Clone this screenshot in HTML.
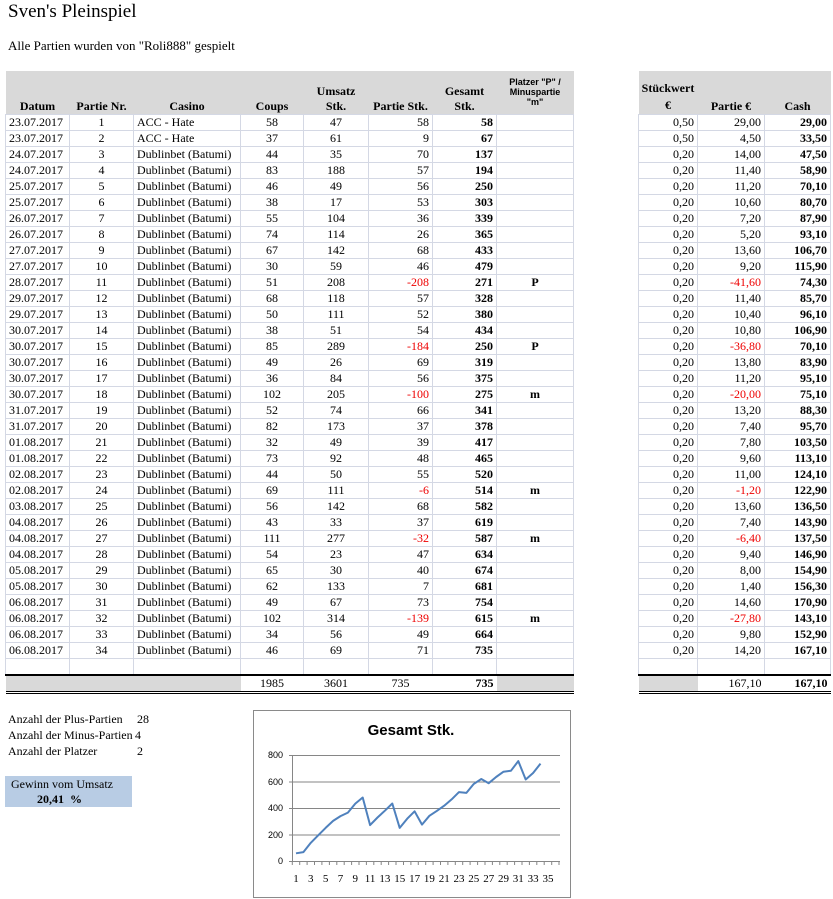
<!DOCTYPE html>
<html><head><meta charset="utf-8"><style>
body{margin:0;width:833px;height:899px;background:#fff;font-family:"Liberation Serif",serif;font-size:12px;color:#000;position:relative;overflow:hidden}
.a{position:absolute;white-space:nowrap}
table{position:absolute;border-collapse:collapse;table-layout:fixed}
td{padding:0 3px;height:15px;line-height:15px;border:1px solid #d4d8e4;white-space:nowrap;overflow:hidden}
th{background:#d9d9d9;font-weight:bold;padding:0;border:none;height:43px}
th div{height:43px;overflow:hidden;display:flex;flex-direction:column;justify-content:flex-end;align-items:center;line-height:15px;text-align:center}
.c{text-align:center}.r{text-align:right}.b{font-weight:bold}.n{color:#e00}
tr.t td{border:none;border-top:2px solid #000;border-bottom:3px double #000;height:15px}
.g{background:#d9d9d9}
</style></head><body>
<div class="a" style="left:8px;top:1px;font-size:19px">Sven's Pleinspiel</div>
<div class="a" style="left:8px;top:38px;font-size:13px">Alle Partien wurden von "Roli888" gespielt</div>

<table style="left:5px;top:71px;width:568px">
<colgroup><col style="width:64px"><col style="width:64px"><col style="width:107px"><col style="width:63px"><col style="width:65px"><col style="width:64px"><col style="width:64px"><col style="width:77px"></colgroup>
<tr><th><div>Datum</div></th><th><div>Partie Nr.</div></th><th><div>Casino</div></th><th><div>Coups</div></th><th><div>Umsatz<br>Stk.</div></th><th><div>Partie Stk.</div></th><th><div>Gesamt<br>Stk.</div></th><th><div style="justify-content:flex-start;padding-top:6px;height:37px;font-family:'Liberation Sans',sans-serif;font-size:9px;line-height:10px">Platzer "P" /<br>Minuspartie<br>"m"</div></th></tr>
<tr><td>23.07.2017</td><td class="c">1</td><td>ACC - Hate</td><td class="c">58</td><td class="c">47</td><td class="r">58</td><td class="r b">58</td><td class="c b"></td></tr>
<tr><td>23.07.2017</td><td class="c">2</td><td>ACC - Hate</td><td class="c">37</td><td class="c">61</td><td class="r">9</td><td class="r b">67</td><td class="c b"></td></tr>
<tr><td>24.07.2017</td><td class="c">3</td><td>Dublinbet (Batumi)</td><td class="c">44</td><td class="c">35</td><td class="r">70</td><td class="r b">137</td><td class="c b"></td></tr>
<tr><td>24.07.2017</td><td class="c">4</td><td>Dublinbet (Batumi)</td><td class="c">83</td><td class="c">188</td><td class="r">57</td><td class="r b">194</td><td class="c b"></td></tr>
<tr><td>25.07.2017</td><td class="c">5</td><td>Dublinbet (Batumi)</td><td class="c">46</td><td class="c">49</td><td class="r">56</td><td class="r b">250</td><td class="c b"></td></tr>
<tr><td>25.07.2017</td><td class="c">6</td><td>Dublinbet (Batumi)</td><td class="c">38</td><td class="c">17</td><td class="r">53</td><td class="r b">303</td><td class="c b"></td></tr>
<tr><td>26.07.2017</td><td class="c">7</td><td>Dublinbet (Batumi)</td><td class="c">55</td><td class="c">104</td><td class="r">36</td><td class="r b">339</td><td class="c b"></td></tr>
<tr><td>26.07.2017</td><td class="c">8</td><td>Dublinbet (Batumi)</td><td class="c">74</td><td class="c">114</td><td class="r">26</td><td class="r b">365</td><td class="c b"></td></tr>
<tr><td>27.07.2017</td><td class="c">9</td><td>Dublinbet (Batumi)</td><td class="c">67</td><td class="c">142</td><td class="r">68</td><td class="r b">433</td><td class="c b"></td></tr>
<tr><td>27.07.2017</td><td class="c">10</td><td>Dublinbet (Batumi)</td><td class="c">30</td><td class="c">59</td><td class="r">46</td><td class="r b">479</td><td class="c b"></td></tr>
<tr><td>28.07.2017</td><td class="c">11</td><td>Dublinbet (Batumi)</td><td class="c">51</td><td class="c">208</td><td class="r n">-208</td><td class="r b">271</td><td class="c b">P</td></tr>
<tr><td>29.07.2017</td><td class="c">12</td><td>Dublinbet (Batumi)</td><td class="c">68</td><td class="c">118</td><td class="r">57</td><td class="r b">328</td><td class="c b"></td></tr>
<tr><td>29.07.2017</td><td class="c">13</td><td>Dublinbet (Batumi)</td><td class="c">50</td><td class="c">111</td><td class="r">52</td><td class="r b">380</td><td class="c b"></td></tr>
<tr><td>30.07.2017</td><td class="c">14</td><td>Dublinbet (Batumi)</td><td class="c">38</td><td class="c">51</td><td class="r">54</td><td class="r b">434</td><td class="c b"></td></tr>
<tr><td>30.07.2017</td><td class="c">15</td><td>Dublinbet (Batumi)</td><td class="c">85</td><td class="c">289</td><td class="r n">-184</td><td class="r b">250</td><td class="c b">P</td></tr>
<tr><td>30.07.2017</td><td class="c">16</td><td>Dublinbet (Batumi)</td><td class="c">49</td><td class="c">26</td><td class="r">69</td><td class="r b">319</td><td class="c b"></td></tr>
<tr><td>30.07.2017</td><td class="c">17</td><td>Dublinbet (Batumi)</td><td class="c">36</td><td class="c">84</td><td class="r">56</td><td class="r b">375</td><td class="c b"></td></tr>
<tr><td>30.07.2017</td><td class="c">18</td><td>Dublinbet (Batumi)</td><td class="c">102</td><td class="c">205</td><td class="r n">-100</td><td class="r b">275</td><td class="c b">m</td></tr>
<tr><td>31.07.2017</td><td class="c">19</td><td>Dublinbet (Batumi)</td><td class="c">52</td><td class="c">74</td><td class="r">66</td><td class="r b">341</td><td class="c b"></td></tr>
<tr><td>31.07.2017</td><td class="c">20</td><td>Dublinbet (Batumi)</td><td class="c">82</td><td class="c">173</td><td class="r">37</td><td class="r b">378</td><td class="c b"></td></tr>
<tr><td>01.08.2017</td><td class="c">21</td><td>Dublinbet (Batumi)</td><td class="c">32</td><td class="c">49</td><td class="r">39</td><td class="r b">417</td><td class="c b"></td></tr>
<tr><td>01.08.2017</td><td class="c">22</td><td>Dublinbet (Batumi)</td><td class="c">73</td><td class="c">92</td><td class="r">48</td><td class="r b">465</td><td class="c b"></td></tr>
<tr><td>02.08.2017</td><td class="c">23</td><td>Dublinbet (Batumi)</td><td class="c">44</td><td class="c">50</td><td class="r">55</td><td class="r b">520</td><td class="c b"></td></tr>
<tr><td>02.08.2017</td><td class="c">24</td><td>Dublinbet (Batumi)</td><td class="c">69</td><td class="c">111</td><td class="r n">-6</td><td class="r b">514</td><td class="c b">m</td></tr>
<tr><td>03.08.2017</td><td class="c">25</td><td>Dublinbet (Batumi)</td><td class="c">56</td><td class="c">142</td><td class="r">68</td><td class="r b">582</td><td class="c b"></td></tr>
<tr><td>04.08.2017</td><td class="c">26</td><td>Dublinbet (Batumi)</td><td class="c">43</td><td class="c">33</td><td class="r">37</td><td class="r b">619</td><td class="c b"></td></tr>
<tr><td>04.08.2017</td><td class="c">27</td><td>Dublinbet (Batumi)</td><td class="c">111</td><td class="c">277</td><td class="r n">-32</td><td class="r b">587</td><td class="c b">m</td></tr>
<tr><td>04.08.2017</td><td class="c">28</td><td>Dublinbet (Batumi)</td><td class="c">54</td><td class="c">23</td><td class="r">47</td><td class="r b">634</td><td class="c b"></td></tr>
<tr><td>05.08.2017</td><td class="c">29</td><td>Dublinbet (Batumi)</td><td class="c">65</td><td class="c">30</td><td class="r">40</td><td class="r b">674</td><td class="c b"></td></tr>
<tr><td>05.08.2017</td><td class="c">30</td><td>Dublinbet (Batumi)</td><td class="c">62</td><td class="c">133</td><td class="r">7</td><td class="r b">681</td><td class="c b"></td></tr>
<tr><td>06.08.2017</td><td class="c">31</td><td>Dublinbet (Batumi)</td><td class="c">49</td><td class="c">67</td><td class="r">73</td><td class="r b">754</td><td class="c b"></td></tr>
<tr><td>06.08.2017</td><td class="c">32</td><td>Dublinbet (Batumi)</td><td class="c">102</td><td class="c">314</td><td class="r n">-139</td><td class="r b">615</td><td class="c b">m</td></tr>
<tr><td>06.08.2017</td><td class="c">33</td><td>Dublinbet (Batumi)</td><td class="c">34</td><td class="c">56</td><td class="r">49</td><td class="r b">664</td><td class="c b"></td></tr>
<tr><td>06.08.2017</td><td class="c">34</td><td>Dublinbet (Batumi)</td><td class="c">46</td><td class="c">69</td><td class="r">71</td><td class="r b">735</td><td class="c b"></td></tr>
<tr><td></td><td></td><td></td><td></td><td></td><td></td><td></td><td></td></tr>
<tr class="t"><td class="g"></td><td class="g"></td><td class="g"></td><td class="c">1985</td><td class="c">3601</td><td class="c">735</td><td class="r b">735</td><td class="g"></td></tr>
</table>

<table style="left:638px;top:71px;width:192px">
<colgroup><col style="width:59px"><col style="width:67px"><col style="width:66px"></colgroup>
<tr><th><div style="line-height:17px">Stückwert<br>€</div></th><th><div>Partie €</div></th><th><div>Cash</div></th></tr>
<tr><td class="r">0,50</td><td class="r">29,00</td><td class="r b">29,00</td></tr>
<tr><td class="r">0,50</td><td class="r">4,50</td><td class="r b">33,50</td></tr>
<tr><td class="r">0,20</td><td class="r">14,00</td><td class="r b">47,50</td></tr>
<tr><td class="r">0,20</td><td class="r">11,40</td><td class="r b">58,90</td></tr>
<tr><td class="r">0,20</td><td class="r">11,20</td><td class="r b">70,10</td></tr>
<tr><td class="r">0,20</td><td class="r">10,60</td><td class="r b">80,70</td></tr>
<tr><td class="r">0,20</td><td class="r">7,20</td><td class="r b">87,90</td></tr>
<tr><td class="r">0,20</td><td class="r">5,20</td><td class="r b">93,10</td></tr>
<tr><td class="r">0,20</td><td class="r">13,60</td><td class="r b">106,70</td></tr>
<tr><td class="r">0,20</td><td class="r">9,20</td><td class="r b">115,90</td></tr>
<tr><td class="r">0,20</td><td class="r n">-41,60</td><td class="r b">74,30</td></tr>
<tr><td class="r">0,20</td><td class="r">11,40</td><td class="r b">85,70</td></tr>
<tr><td class="r">0,20</td><td class="r">10,40</td><td class="r b">96,10</td></tr>
<tr><td class="r">0,20</td><td class="r">10,80</td><td class="r b">106,90</td></tr>
<tr><td class="r">0,20</td><td class="r n">-36,80</td><td class="r b">70,10</td></tr>
<tr><td class="r">0,20</td><td class="r">13,80</td><td class="r b">83,90</td></tr>
<tr><td class="r">0,20</td><td class="r">11,20</td><td class="r b">95,10</td></tr>
<tr><td class="r">0,20</td><td class="r n">-20,00</td><td class="r b">75,10</td></tr>
<tr><td class="r">0,20</td><td class="r">13,20</td><td class="r b">88,30</td></tr>
<tr><td class="r">0,20</td><td class="r">7,40</td><td class="r b">95,70</td></tr>
<tr><td class="r">0,20</td><td class="r">7,80</td><td class="r b">103,50</td></tr>
<tr><td class="r">0,20</td><td class="r">9,60</td><td class="r b">113,10</td></tr>
<tr><td class="r">0,20</td><td class="r">11,00</td><td class="r b">124,10</td></tr>
<tr><td class="r">0,20</td><td class="r n">-1,20</td><td class="r b">122,90</td></tr>
<tr><td class="r">0,20</td><td class="r">13,60</td><td class="r b">136,50</td></tr>
<tr><td class="r">0,20</td><td class="r">7,40</td><td class="r b">143,90</td></tr>
<tr><td class="r">0,20</td><td class="r n">-6,40</td><td class="r b">137,50</td></tr>
<tr><td class="r">0,20</td><td class="r">9,40</td><td class="r b">146,90</td></tr>
<tr><td class="r">0,20</td><td class="r">8,00</td><td class="r b">154,90</td></tr>
<tr><td class="r">0,20</td><td class="r">1,40</td><td class="r b">156,30</td></tr>
<tr><td class="r">0,20</td><td class="r">14,60</td><td class="r b">170,90</td></tr>
<tr><td class="r">0,20</td><td class="r n">-27,80</td><td class="r b">143,10</td></tr>
<tr><td class="r">0,20</td><td class="r">9,80</td><td class="r b">152,90</td></tr>
<tr><td class="r">0,20</td><td class="r">14,20</td><td class="r b">167,10</td></tr>
<tr><td></td><td></td><td></td></tr>
<tr class="t"><td class="g"></td><td class="r">167,10</td><td class="r b">167,10</td></tr>
</table>

<div class="a" style="left:8px;top:712px">Anzahl der Plus-Partien</div><div class="a" style="left:137px;top:712px">28</div>
<div class="a" style="left:8px;top:728px">Anzahl der Minus-Partien</div><div class="a" style="left:135px;top:728px">4</div>
<div class="a" style="left:8px;top:744px">Anzahl der Platzer</div><div class="a" style="left:137px;top:744px">2</div>
<div class="a" style="left:5px;top:776px;width:127px;height:31px;background:#b8cce4"></div>
<div class="a" style="left:11px;top:777px">Gewinn vom Umsatz</div>
<div class="a b" style="left:37px;top:792px">20,41 &nbsp;%</div>

<svg class="a" style="left:253px;top:710px" width="318" height="188" viewBox="0 0 318 188">
<rect x="0.5" y="0.5" width="317" height="187" fill="#fff" stroke="#8a8a8a"/>
<text x="158" y="25" text-anchor="middle" font-family="Liberation Sans,sans-serif" font-weight="bold" font-size="15">Gesamt Stk.</text>
<g stroke="#868686" stroke-width="1">
<line x1="36" y1="45.5" x2="307" y2="45.5"/><line x1="36" y1="72" x2="307" y2="72"/><line x1="36" y1="98.5" x2="307" y2="98.5"/><line x1="36" y1="125" x2="307" y2="125"/><line x1="36" y1="151.5" x2="307" y2="151.5"/>
<line x1="39.5" y1="45" x2="39.5" y2="152"/>
<path d="M39.3 151v4M46.7 151v4M54.1 151v4M61.5 151v4M68.9 151v4M76.4 151v4M83.8 151v4M91.2 151v4M98.6 151v4M106 151v4M113.4 151v4M120.8 151v4M128.2 151v4M135.6 151v4M143 151v4M150.5 151v4M157.9 151v4M165.3 151v4M172.7 151v4M180.1 151v4M187.5 151v4M194.9 151v4M202.3 151v4M209.7 151v4M217.1 151v4M224.6 151v4M232 151v4M239.4 151v4M246.8 151v4M254.2 151v4M261.6 151v4M269 151v4M276.4 151v4M283.8 151v4M291.2 151v4M298.7 151v4M306 151v4"/>
</g>
<g font-family="Liberation Sans,sans-serif" font-size="9" text-anchor="end">
<text x="30" y="48">800</text><text x="30" y="75">600</text><text x="30" y="101">400</text><text x="30" y="128">200</text><text x="30" y="154">0</text>
</g>
<g font-family="Liberation Serif,serif" font-size="11" text-anchor="middle">
<text x="43" y="172">1</text><text x="57.8" y="172">3</text><text x="72.6" y="172">5</text><text x="87.5" y="172">7</text><text x="102.3" y="172">9</text><text x="117.1" y="172">11</text><text x="131.9" y="172">13</text><text x="146.7" y="172">15</text><text x="161.6" y="172">17</text><text x="176.4" y="172">19</text><text x="191.2" y="172">21</text><text x="206" y="172">23</text><text x="220.8" y="172">25</text><text x="235.7" y="172">27</text><text x="250.5" y="172">29</text><text x="265.3" y="172">31</text><text x="280.1" y="172">33</text><text x="295" y="172">35</text>
</g>
<polyline fill="none" stroke="#4f81bd" stroke-width="2" stroke-linejoin="round" points="43,143.3 50.4,142.1 57.8,132.8 65.2,125.3 72.6,117.9 80.1,110.9 87.5,106.1 94.9,102.6 102.3,93.6 109.7,87.5 117.1,115.1 124.5,107.5 131.9,100.7 139.3,93.5 146.7,117.9 154.2,108.7 161.6,101.3 169,114.6 176.4,105.8 183.8,100.9 191.2,95.7 198.6,89.4 206,82.1 213.4,82.9 220.8,73.9 228.3,69 235.7,73.2 243.1,67 250.5,61.7 257.9,60.8 265.3,51.1 272.7,69.5 280.1,63 287.5,53.6"/>
</svg>
</body></html>
